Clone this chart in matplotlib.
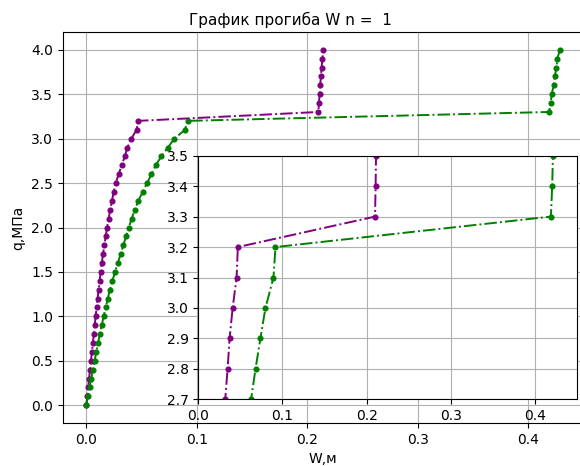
import matplotlib
matplotlib.use("Agg")
import matplotlib.pyplot as plt
import numpy as np

q = [0.0, 0.1, 0.2, 0.3, 0.4, 0.5, 0.6, 0.7, 0.8, 0.9,
     1.0, 1.1, 1.2, 1.3, 1.4, 1.5, 1.6, 1.7, 1.8, 1.9,
     2.0, 2.1, 2.2, 2.3, 2.4, 2.5, 2.6, 2.7, 2.8, 2.9,
     3.0, 3.1, 3.2, 3.3, 3.4, 3.5, 3.6, 3.7, 3.8, 3.9, 4.0]

w_purple = [0.0, 0.0008, 0.0016, 0.0025, 0.0033, 0.0042, 0.0050, 0.0059, 0.0067, 0.0076,
            0.0084, 0.0093, 0.0102, 0.0111, 0.0120, 0.0130, 0.0140, 0.0151, 0.0163, 0.0175,
            0.0188, 0.0202, 0.0216, 0.0232, 0.0248, 0.0266, 0.0293, 0.0320, 0.0348, 0.0372,
            0.0408, 0.0455, 0.0470, 0.2100, 0.2107, 0.2112, 0.2118, 0.2124, 0.2130, 0.2138, 0.2146]

w_green = [0.0, 0.0014, 0.0029, 0.0044, 0.0059, 0.0075, 0.0090, 0.0106, 0.0122, 0.0139,
           0.0157, 0.0175, 0.0194, 0.0214, 0.0236, 0.0260, 0.0285, 0.0310, 0.0335, 0.0360,
           0.0385, 0.0410, 0.0440, 0.0470, 0.0510, 0.0550, 0.0590, 0.0627, 0.0680, 0.0738,
           0.0798, 0.0893, 0.0917, 0.4190, 0.4205, 0.4214, 0.4232, 0.4242, 0.4257, 0.4265, 0.4288]

title = "График прогиба W n =  1"
xlabel = "W,м"
ylabel = "q,МПа"
inset_yticks = [2.7, 2.8, 2.9, 3.0, 3.1, 3.2, 3.3, 3.4, 3.5]
inset_xticks = [0.0, 0.1, 0.2, 0.3, 0.4]

W, H = 580, 466
fig = plt.figure(figsize=(W / 100, H / 100), dpi=100)

# main axes (pixel geometry)
l, r, t, b = 62.7, 583.5, 32.0, 423.0
ax = fig.add_axes([l / W, 1 - b / H, (r - l) / W, (b - t) / H])
style = dict(linestyle='-.', marker='o', markersize=3.4, linewidth=1.4)
ax.plot(w_purple, q, color='purple', **style)
ax.plot(w_green, q, color='green', **style)
ax.set_xlim(-0.0214, 0.4502)
ax.set_ylim(-0.2, 4.2)
ax.set_xticks([0.0, 0.1, 0.2, 0.3, 0.4])
ax.set_yticks(np.arange(0, 4.01, 0.5))
ax.grid(True)
ax.set_xlabel(xlabel)
ax.set_ylabel(ylabel)
fig.suptitle(title, fontsize=11, y=0.975)

# inset axes
il, ir, it, ib = 198.3, 577.0, 155.7, 399.3
axi = fig.add_axes([il / W, 1 - ib / H, (ir - il) / W, (ib - it) / H])
axi.plot(w_purple, q, color='purple', **style)
axi.plot(w_green, q, color='green', **style)
axi.set_xlim(0, 0.45)
axi.set_ylim(2.7, 3.5)
axi.set_xticks(inset_xticks)
axi.set_yticks(inset_yticks)
axi.grid(True)

fig.savefig("out.png", dpi=100)
